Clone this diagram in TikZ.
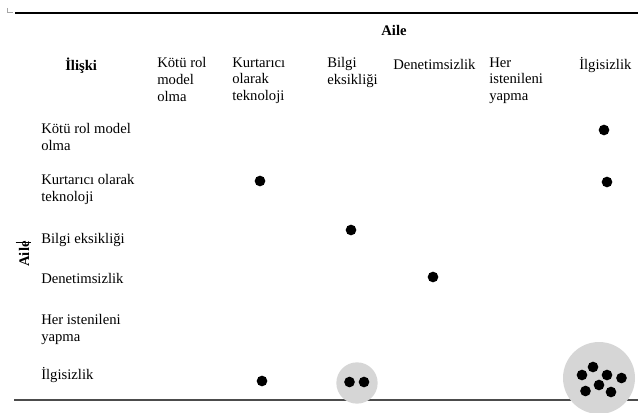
\documentclass[tikz,border=0pt]{standalone}
\usepackage{fontspec}
\setmainfont{Liberation Serif}
\usetikzlibrary{positioning}
\tikzset{>=latex}

\begin{document}
\begin{tikzpicture}[x=0.75pt,y=-0.75pt,
  every node/.style={font=\fontsize{11}{12.5}\selectfont,inner sep=0pt},
  cell/.style={anchor=north west,align=left,execute at begin node=\strut},
  head/.style={cell,font=\fontsize{11}{12.5}\selectfont\bfseries},
  dot/.style={circle,fill=black,minimum size=8pt},
  group/.style={circle,fill=black!16}]
\useasboundingbox (0,0) rectangle (638,413);
% table rules
\draw[line width=0.9pt] (15,13) -- (638,13);
\draw[line width=0.8pt,black!70] (14,400) -- (638,400);
\draw[black!35,line width=0.4pt] (7,8) -- (7,12.5) -- (13,12.5);
% headers
\node[head,anchor=north] (aileTop) at (394,24) {Aile};
\node[head] (iliski) at (65,57.3) {İlişki};
\node[cell] (cKotu) at (157,57.3) {Kötü rol\\model\\olma};
\node[cell] (cKurt) at (232,57.3) {Kurtarıcı\\olarak\\teknoloji};
\node[cell] (cBilgi) at (327,57.3) {Bilgi\\eksikliği};
\node[cell] (cDenet) at (393,57.3) {Denetimsizlik};
\node[cell] (cHer) at (489,57.3) {Her\\istenileni\\yapma};
\node[cell] (cIlgi) at (579,57.3) {İlgisizlik};
% rows
\node[cell] (rKotu) at (41,123.3) {Kötü rol model\\olma};
\node[cell] (rKurt) at (41,174.3) {Kurtarıcı olarak\\teknoloji};
\node[cell] (rBilgi) at (41,231.3) {Bilgi eksikliği};
\node[cell] (rDenet) at (41,271.3) {Denetimsizlik};
\node[cell] (rHer) at (41,314.3) {Her istenileni\\yapma};
\node[cell] (rIlgi) at (41,367.5) {İlgisizlik};
\node[font=\fontsize{11}{12.5}\selectfont\bfseries,rotate=90] (aileSide) at (24,254) {Aile};
\draw[line width=0.5pt] (15.5,242) -- (31,242);
% groups
\node[group,minimum size=31pt] (gBilgi) at (357,383) {};
\node[group,minimum size=54pt] (gIlgi) at (599,378) {};
% marks
\node[dot] (d1) at (604,130) {};
\node[dot] (d2) at (260,181) {};
\node[dot] (d3) at (607,182) {};
\node[dot] (d4) at (351,230) {};
\node[dot] (d5) at (433,277) {};
\node[dot] (d6) at (262,381) {};
\node[dot] (d7) at (349.5,382) {};
\node[dot] (d8) at (364,382) {};
\node[dot] (d9) at (593,367) {};
\node[dot] (d10) at (582,375) {};
\node[dot] (d11) at (607,375) {};
\node[dot] (d12) at (621.5,378) {};
\node[dot] (d13) at (599,385) {};
\node[dot] (d14) at (585.5,391) {};
\node[dot] (d15) at (611,392) {};
\end{tikzpicture}
\end{document}
